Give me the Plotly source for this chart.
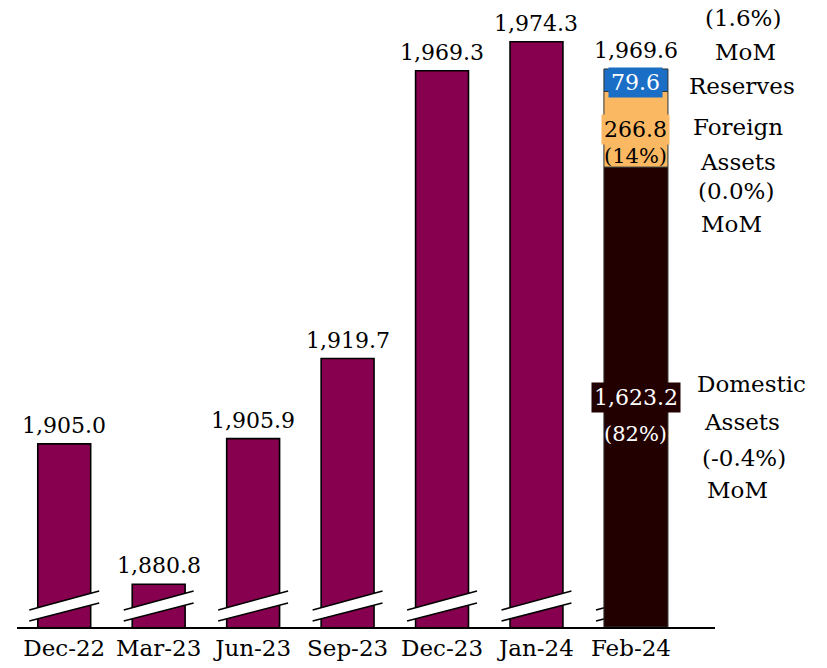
import plotly.graph_objects as go

# ---------------- data ----------------
categories = ["Dec-22", "Mar-23", "Jun-23", "Sep-23", "Dec-23", "Jan-24", "Feb-24"]
totals = [1905.0, 1880.8, 1905.9, 1919.7, 1969.3, 1974.3]          # Dec-22 .. Jan-24
feb_components = ["Domestic Assets", "Foreign Assets", "Reserves"]
feb_values = [1623.2, 266.8, 79.6]
feb_total = 1969.6
feb_shares = ["(82%)", "(14%)", ""]
feb_mom = ["(-0.4%)", "(0.0%)", "(1.6%)"]

# ---------------- style ----------------
FONT = "DejaVu Serif"
FS = 22
MAROON = "#87004F"
SEG_COLORS = ["#230000", "#FBB862", "#1A6EC6"]
SEG_TEXT = ["white", "black", "white"]
W, H = 827, 668
M_L, M_R, M_T, M_B = 17, 112, 10, 41
Y_MIN, Y_MAX = 1873.44, 1979.76
X_RANGE = [-0.5, 6.89]
BAR_W = 0.56
FEB_W, FEB_OFF = 0.678, -0.286

plot_h = H - M_T - M_B
ppu = plot_h / (Y_MAX - Y_MIN)
frac = (feb_total - Y_MIN) / (Y_MAX - Y_MIN)
Y2_MAX = feb_total / frac

xs = list(range(len(categories)))
fig = go.Figure()

# main bars
fig.add_trace(go.Bar(
    x=xs[:-1], y=totals, width=BAR_W,
    marker=dict(color=MAROON, line=dict(color="black", width=1.6)),
    yaxis="y", showlegend=False, hoverinfo="skip"))

# axis-break marks (behind Feb-24 bar)
def pv(px):
    return Y_MIN + px / ppu

bx, by, lx, ly = [], [], [], []
half = 0.37
for i in xs:
    xl, xr = i - half, i + half
    low_l, low_r, up_l, up_r = pv(6), pv(24), pv(17), pv(36)
    bx += [xl, xr, xr, xl, xl, None]
    by += [low_l, low_r, up_r, up_l, low_l, None]
    lx += [xl, xr, None, xl, xr, None]
    ly += [low_l, low_r, None, up_l, up_r, None]
fig.add_trace(go.Scatter(x=bx, y=by, mode="lines", fill="toself", fillcolor="white",
                         line=dict(width=0, color="white"), yaxis="y",
                         showlegend=False, hoverinfo="skip"))
fig.add_trace(go.Scatter(x=lx, y=ly, mode="lines", line=dict(color="black", width=1.6),
                         yaxis="y", showlegend=False, hoverinfo="skip"))

# Feb-24 stacked bar on a 0-based overlay axis
xnum = xs[-1]
base = 0.0
mids = []
for name, v, c in zip(feb_components, feb_values, SEG_COLORS):
    fig.add_trace(go.Bar(
        x=[xnum], y=[v], base=[base], width=FEB_W, offset=FEB_OFF,
        marker=dict(color=c, line=dict(color="#333333", width=1)),
        yaxis="y2", name=name, showlegend=False, hoverinfo="skip"))
    mids.append(base + v / 2)
    base += v
feb_center = xnum + FEB_OFF + FEB_W / 2

annotations = []
# value labels above bars
for i, v in enumerate(totals):
    annotations.append(dict(x=i, y=v, xref="x", yref="y", text=f"{v:,.1f}",
                            showarrow=False, yanchor="bottom", yshift=4,
                            font=dict(family=FONT, size=FS, color="black")))
annotations.append(dict(x=feb_center, y=feb_total, xref="x", yref="y2",
                        text=f"{feb_total:,.1f}", showarrow=False, yanchor="bottom",
                        yshift=4, font=dict(family=FONT, size=FS, color="black")))

# segment labels
share_dy = [-37, -27, 0]
for k, (v, m) in enumerate(zip(feb_values, mids)):
    annotations.append(dict(x=feb_center, y=m, xref="x", yref="y2", text=f"{v:,.1f}",
                            showarrow=False, yanchor="middle", bgcolor=SEG_COLORS[k],
                            borderpad=2, yshift=(-2 if k == 2 else 0),
                            font=dict(family=FONT, size=FS, color=SEG_TEXT[k])))
    if feb_shares[k]:
        annotations.append(dict(x=feb_center, y=m, xref="x", yref="y2", text=feb_shares[k],
                                showarrow=False, yanchor="middle", yshift=share_dy[k],
                                font=dict(family=FONT, size=FS - 1, color=SEG_TEXT[k])))

# right-side descriptions
side_lines = []
for k, (name, mom) in enumerate(zip(feb_components, feb_mom)):
    if k == 2:
        side_lines.append([mom, "MoM", name])
    else:
        side_lines.append(name.split() + [mom, "MoM"])
side_dy = [[13, -25, -61, -93], [2, -33, -62, -95], [62, 28, -6]]
side_dx = [[116, 106, 108, 102], [102, 102, 100, 96], [107, 110, 106]]
for k, lines in enumerate(side_lines):
    for j, t in enumerate(lines):
        annotations.append(dict(x=feb_center, y=mids[k], xref="x", yref="y2", text=t,
                                showarrow=False, yanchor="middle", xanchor="center",
                                xshift=side_dx[k][j], yshift=side_dy[k][j],
                                font=dict(family=FONT, size=FS + 1, color="black")))

fig.update_layout(
    width=W, height=H,
    margin=dict(l=M_L, r=M_R, t=M_T, b=M_B),
    paper_bgcolor="white", plot_bgcolor="white",
    barmode="overlay",
    font=dict(family=FONT, size=FS, color="black"),
    xaxis=dict(type="linear", range=X_RANGE, tickmode="array",
               tickvals=xs, ticktext=categories, automargin=False,
               showline=True, linecolor="black", linewidth=1.5,
               showgrid=False, zeroline=False, ticks="",
               tickfont=dict(family=FONT, size=FS + 1, color="black")),
    yaxis=dict(range=[Y_MIN, Y_MAX], visible=False, showgrid=False, zeroline=False,
               automargin=False),
    yaxis2=dict(range=[0, Y2_MAX], overlaying="y", visible=False,
                showgrid=False, zeroline=False, automargin=False),
    annotations=annotations,
    showlegend=False,
)

fig.write_html("out.html", config={"displayModeBar": False, "staticPlot": True},
               post_script="document.body.style.margin='0';")
